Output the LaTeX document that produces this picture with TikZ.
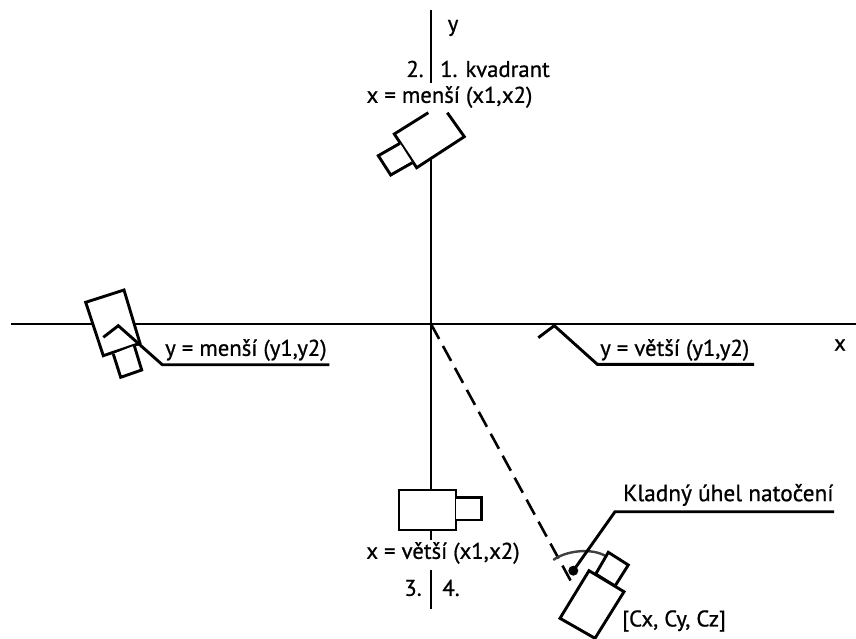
\documentclass[tikz,border=0pt]{standalone}
\usepackage{fontspec}
\setmainfont[RawFeature={embolden=0.8}]{PT Sans}
\tikzset{
  x=1pt,y=-1pt,
  ln/.style={draw=black,line width=2.9pt,line cap=butt,line join=miter},
  cam/.style={ln,fill=white},
  lab/.style={inner sep=0pt,font=\fontsize{22.7}{24}\selectfont,text=black},
  bigl/.style={inner sep=0pt,font=\fontsize{23.3}{25}\selectfont,text=black},
  dashln/.style={draw=black,line width=2.6pt,dash pattern=on 17pt off 8pt}
}
\begin{document}
\begin{tikzpicture}
\useasboundingbox (0,0) rectangle (856,639);
\coordinate (O) at (431,324);
\coordinate (yTop) at (431,10);
\coordinate (yTopEnd) at (431,83);
\coordinate (yMidA) at (431,155);
\coordinate (yMidB) at (431,492);
\coordinate (yLowA) at (431,528);
\coordinate (yLowB) at (431,540);
\coordinate (yEndA) at (431,570);
\coordinate (yEndB) at (431,609);
\coordinate (xL) at (11,324);
\coordinate (xR) at (856,324);
\draw[ln] (yTop) -- (yTopEnd);
\draw[ln] (yMidA) -- (yMidB);
\draw[ln] (yLowA) -- (yLowB);
\draw[ln] (yEndA) -- (yEndB);
\draw[ln] (xL) -- (xR);
% dashed view line
\coordinate (dashEnd) at (573,585);
\draw[dashln] (O) -- (dashEnd);
% top camera
\draw[ln,fill=white,draw=none] (394.3,134) -- (416.7,167.7) -- (464.3,136.7) -- (447.3,112.7) -- (428.3,112.7) -- cycle;
\draw[ln] (428.3,112.7) -- (394.3,134) -- (416.7,167.7) -- (464.3,136.7) -- (447.3,112.7);
\draw[cam] (400,143.3) -- (378.3,155.7) -- (390.7,175) -- (412.3,162.7);
% left camera
\draw[cam] (85.7,302.3) -- (124,290) -- (140,343.3) -- (103.3,355.7) -- cycle;
\draw[cam] (113.3,354) -- (120.7,377.3) -- (141.7,370) -- (134.3,345.7);
% bottom camera
\draw[cam] (399,490) rectangle (456,530);
\draw[cam] (456,497.7) -- (481.7,497.7) -- (481.7,520) -- (456,520);
% lower right camera
\draw[ln,draw=black!75,line width=2.4pt] (553.3,560) .. controls (565,551) and (592,547) .. (606.7,556.7);
\draw[cam] (608.3,552.3) -- (628.3,565) -- (615,586) -- (595.7,574) -- cycle;
\draw[cam] (589,570.7) -- (624,591.7) -- (595,638.3) -- (560,618.3) -- cycle;
% leaders
\coordinate (lA) at (103.3,337.3);
\coordinate (lB) at (118.3,325.7);
\coordinate (lC) at (162.3,364.7);
\coordinate (lD) at (329.3,364.7);
\draw[ln] (lA) -- (lB) -- (lC) -- (lD);
\coordinate (rA) at (538.3,337.7);
\coordinate (rB) at (554.3,325.7);
\coordinate (rC) at (597.3,364.3);
\coordinate (rD) at (754,364.3);
\draw[ln] (rA) -- (rB) -- (rC) -- (rD);
\node[circle,fill=black,inner sep=0pt,minimum size=10pt] (dot) at (573.3,570.7) {};
\coordinate (kB) at (615,511.7);
\coordinate (kC) at (834,511.7);
\draw[ln] (dot.center) -- (kB) -- (kC);
% labels
\node[lab] (ly) at (453,28) {y};
\node[lab] (l2) at (415,69) {2.};
\node[lab,anchor=west] (l1) at (440,69) {1. kvadrant};
\node[lab] (xmin) at (449.5,97) {x = menší (x1,x2)};
\node[lab,anchor=west] (ymin) at (165,350) {y = menší (y1,y2)};
\node[lab,anchor=west] (ymax) at (600,350) {y = větší (y1,y2)};
\node[lab] (lx) at (840,345) {x};
\node[lab] (xmax) at (443,553) {x = větší (x1,x2)};
\node[lab] (l3) at (413,588) {3.};
\node[lab] (l4) at (451,588) {4.};
\node[bigl,anchor=west] (kl) at (623,495) {Kladný úhel natočení};
\node[lab,anchor=west] (cc) at (622,621) {[Cx, Cy, Cz]};
\end{tikzpicture}
\end{document}
